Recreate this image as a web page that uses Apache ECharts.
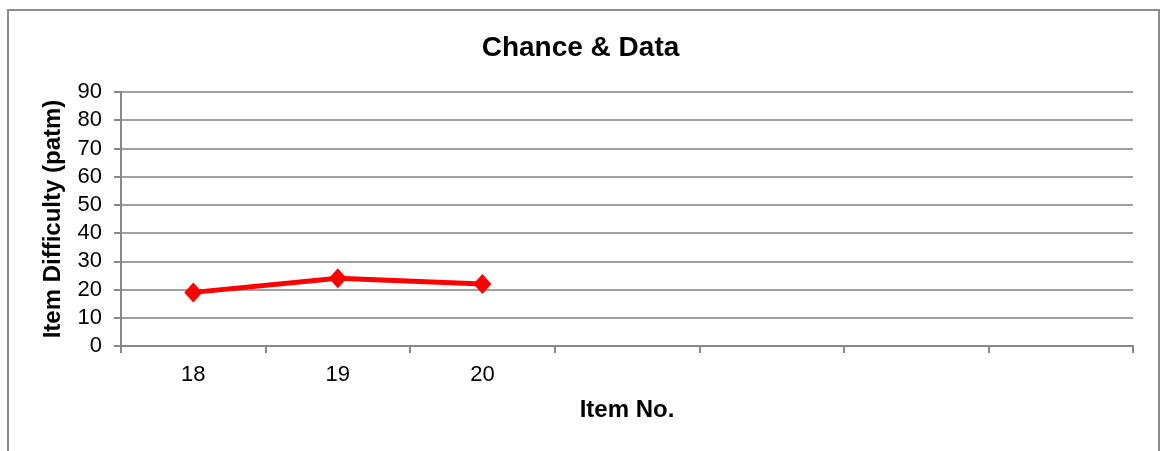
<!DOCTYPE html>
<html>
<head>
<meta charset="utf-8">
<script src="https://cdn.jsdelivr.net/npm/echarts@6/dist/echarts.min.js"></script>
<style>
html,body{margin:0;padding:0;background:#fff;}
#chart{width:1161px;height:451px;}
</style>
</head>
<body>
<div id="chart"></div>
<script>
var titleText = 'Chance & Data';
var categories = ['18', '19', '20', '', '', '', ''];
var difficulty = [19, 24, 22, null, null, null, null];
var yTicks = { min: 0, max: 90, interval: 10 };
var xName = 'Item No.';
var yName = 'Item Difficulty (patm)';

var chart = echarts.init(document.getElementById('chart'), null, {renderer: 'canvas'});
var FONT = '"Liberation Sans", Arial, sans-serif';
chart.setOption({
  animation: false,
  backgroundColor: '#ffffff',
  graphic: [{
    type: 'rect', silent: true, z: -1,
    shape: {x: 8, y: 10, width: 1151, height: 500},
    style: {fill: 'none', stroke: '#8c8c8c', lineWidth: 2}
  }],
  title: {
    text: titleText, left: 'center', top: 29,
    textStyle: {fontFamily: FONT, fontWeight: 'bold', fontSize: 28, color: '#000'}
  },
  grid: {left: 121, right: 28, top: 92, bottom: 105, containLabel: false},
  xAxis: {
    type: 'category', data: categories, boundaryGap: true,
    name: xName, nameLocation: 'middle', nameGap: 52,
    nameTextStyle: {fontFamily: FONT, fontWeight: 'bold', fontSize: 24, color: '#000'},
    axisLine: {lineStyle: {color: '#888888', width: 2}},
    axisTick: {show: true, interval: 0, length: 7, lineStyle: {color: '#888888', width: 2}},
    axisLabel: {interval: 0, margin: 18, fontFamily: FONT, fontSize: 22, color: '#000'},
    splitLine: {show: false}
  },
  yAxis: {
    type: 'value', min: yTicks.min, max: yTicks.max, interval: yTicks.interval,
    name: yName, nameLocation: 'middle', nameGap: 56, nameRotate: 90,
    nameTextStyle: {fontFamily: FONT, fontWeight: 'bold', fontSize: 24, color: '#000'},
    axisLine: {show: true, lineStyle: {color: '#888888', width: 2}},
    axisTick: {show: true, length: 7, lineStyle: {color: '#888888', width: 2}},
    axisLabel: {margin: 19, fontFamily: FONT, fontSize: 22, color: '#000'},
    splitLine: {show: true, lineStyle: {color: '#a0a0a0', width: 2}}
  },
  series: [{
    type: 'line', data: difficulty, connectNulls: false,
    symbol: 'diamond', symbolSize: [18, 20], showSymbol: true,
    lineStyle: {color: '#ff0000', width: 5},
    itemStyle: {color: '#ff0000'}
  }]
});
</script>
</body>
</html>
